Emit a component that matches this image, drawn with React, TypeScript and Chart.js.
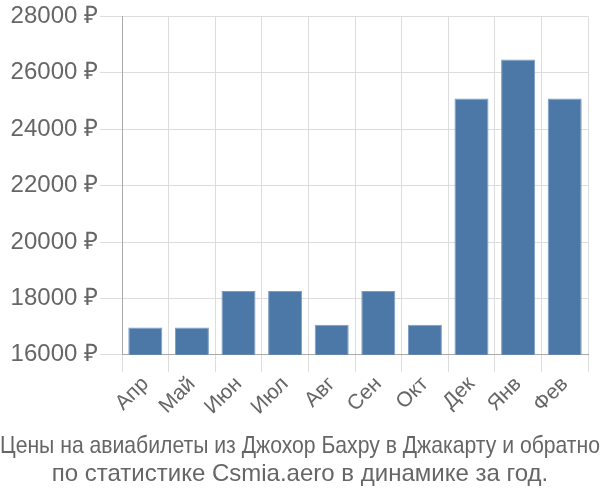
import React, { useEffect, useRef } from "react";
import { Chart, registerables } from "chart.js";

Chart.register(...registerables);

const categories = ["Апр", "Май", "Июн", "Июл", "Авг", "Сен", "Окт", "Дек", "Янв", "Фев"];
const prices = [16970, 16970, 18260, 18260, 17070, 18260, 17070, 25090, 26470, 25090];
const titleLines = [
  "Цены на авиабилеты из Джохор Бахру в Джакарту и обратно",
  "по статистике Csmia.aero в динамике за год.",
];
const yMin = 16000;
const yMax = 28000;
const yStep = 2000;

const FONT = "Liberation Sans, Arial, sans-serif";

export default function App() {
  const ref = useRef<HTMLCanvasElement | null>(null);
  useEffect(() => {
    document.body.style.margin = "0";
    const ctx = ref.current!.getContext("2d")!;
    const chart = new Chart(ctx, {
      type: "bar",
      data: {
        labels: categories,
        datasets: [
          {
            data: prices,
            backgroundColor: "#4c78a8",
            borderColor: "#7d9dc4",
            borderWidth: 1,
            barPercentage: 0.73,
            categoryPercentage: 1,
          },
        ],
      },
      options: {
        animation: false,
        responsive: false,
        maintainAspectRatio: false,
        layout: { padding: { left: 0, right: 0, top: 4, bottom: 12 } },
        plugins: {
          legend: { display: false },
          tooltip: { enabled: false },
          title: {
            display: true,
            position: "bottom",
            text: titleLines,
            color: "#666",
            font: { family: FONT, size: 24, weight: "normal", lineHeight: 1.15 },
            padding: { top: 13, bottom: 0 },
          },
        },
        scales: {
          x: {
            grid: { color: "#dddddd", lineWidth: 1, offset: true, tickLength: 17 },
            border: { color: "#aaaaaa" },
            ticks: {
              color: "#666",
              font: { family: FONT, size: 21 },
              maxRotation: 45,
              minRotation: 45,
              padding: 0,
            },
          },
          y: {
            min: yMin,
            max: yMax,
            grid: { color: "#dddddd", lineWidth: 1, tickLength: 22 },
            border: { color: "#aaaaaa" },
            ticks: {
              stepSize: yStep,
              color: "#666",
              font: { family: FONT, size: 24 },
              padding: 2,
              callback: (v: any) => v + " ₽",
            },
            afterFit: (axis: any) => {
              axis.width = 122;
            },
          },
          yRight: {
            position: "right",
            display: true,
            grid: { display: false },
            border: { display: false },
            ticks: { display: false },
            afterFit: (axis: any) => {
              axis.width = 12;
            },
          },
        },
      },
    });
    return () => chart.destroy();
  }, []);
  return (
    <div style={{ width: 600, height: 500 }}>
      <canvas ref={ref} width={600} height={500} />
    </div>
  );
}
